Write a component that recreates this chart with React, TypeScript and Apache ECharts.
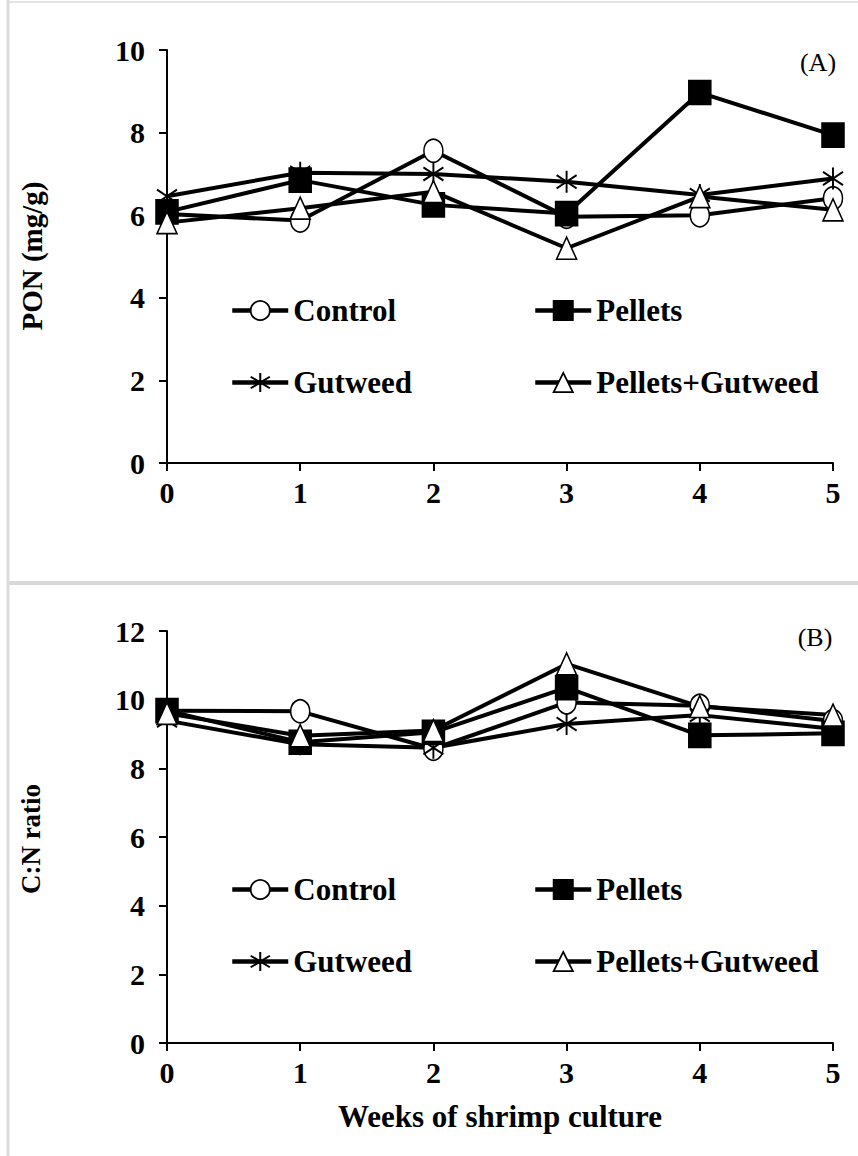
import React, { useEffect, useRef } from "react";
import * as echarts from "echarts";

const weeks = [0, 1, 2, 3, 4, 5];
const seriesNames = ["Control", "Pellets", "Gutweed", "Pellets+Gutweed"];

// Panel A: PON (mg/g)
const controlA = [6.03, 5.87, 7.56, 5.96, 6.0, 6.41];
const pelletsA = [6.08, 6.85, 6.25, 6.04, 8.97, 7.94];
const gutweedA = [6.46, 7.03, 7.0, 6.81, 6.49, 6.89];
const pelGutA = [5.82, 6.17, 6.57, 5.2, 6.45, 6.13];

// Panel B: C:N ratio
const controlB = [9.68, 9.66, 8.57, 9.92, 9.82, 9.38];
const pelletsB = [9.68, 8.76, 9.05, 10.35, 8.96, 9.02];
const gutweedB = [9.39, 8.7, 8.6, 9.29, 9.55, 9.15];
const pelGutB = [9.6, 8.95, 9.1, 11.04, 9.8, 9.55];

const yTicksA = { min: 0, max: 10, interval: 2 };
const yTicksB = { min: 0, max: 12, interval: 2 };

const FONT = "'Liberation Serif', 'Times New Roman', serif";
const STAR = "path://M10 0 L10 20 M1 4 L19 16 M19 4 L1 16";

const symbolDefs: Record<string, any> = {
  Control: { symbol: "circle", symbolSize: [19, 23], fill: "#fff" },
  Pellets: { symbol: "rect", symbolSize: [22, 24], fill: "#000" },
  Gutweed: { symbol: STAR, symbolSize: [20, 22], fill: "none" },
  "Pellets+Gutweed": { symbol: "triangle", symbolSize: [20, 22], fill: "#fff" },
};

function mkSeries(name: string, values: number[], idx: number) {
  const d = symbolDefs[name];
  return {
    type: "line",
    name,
    xAxisIndex: idx,
    yAxisIndex: idx,
    data: weeks.map((w, i) => [w, values[i]]),
    symbol: d.symbol,
    symbolSize: d.symbolSize,
    showAllSymbol: true,
    lineStyle: { color: "#000", width: 4 },
    itemStyle: { color: d.fill, borderColor: "#000", borderWidth: name === "Gutweed" ? 2 : 1.6, opacity: 1 },
    emphasis: { disabled: true },
    z: 3,
  };
}

function mkLegend(name: string, left: number, centerY: number) {
  return {
    data: [name],
    left,
    top: centerY - 16,
    padding: 0,
    itemWidth: 56,
    itemHeight: 24,
    selectedMode: false,
    lineStyle: { color: "#000", width: 4.5 },
    itemStyle: { borderWidth: name === "Gutweed" ? 2 : 1.8 },
    textStyle: { fontFamily: FONT, fontWeight: "bold", fontSize: 31, color: "#000" },
  };
}

function axisCommon() {
  return {
    axisLine: { show: true, lineStyle: { color: "#000", width: 2 } },
    axisTick: { show: true, length: 8, lineStyle: { color: "#000", width: 2 } },
    splitLine: { show: false },
    axisLabel: { fontFamily: FONT, fontWeight: "bold", fontSize: 30, color: "#000" },
  };
}

export default function App() {
  const ref = useRef<HTMLDivElement>(null);
  useEffect(() => {
    if (!ref.current) return;
    const chart = echarts.init(ref.current, undefined, { renderer: "svg" });
    const grids = [
      { left: 167, top: 50, width: 666, height: 413 },
      { left: 167, top: 631, width: 666, height: 412 },
    ];
    const option: any = {
      animation: false,
      backgroundColor: "#fff",
      grid: grids,
      xAxis: [0, 1].map((i) => ({
        type: "value",
        gridIndex: i,
        min: 0,
        max: 5,
        interval: 1,
        ...axisCommon(),
        axisLabel: { ...axisCommon().axisLabel, margin: 14 },
      })),
      yAxis: [yTicksA, yTicksB].map((t, i) => ({
        type: "value",
        gridIndex: i,
        min: t.min,
        max: t.max,
        interval: t.interval,
        ...axisCommon(),
        axisLabel: { ...axisCommon().axisLabel, margin: 22 },
      })),
      legend: [
        mkLegend("Control", 230, 311),
        mkLegend("Pellets", 533, 311),
        mkLegend("Gutweed", 230, 383),
        mkLegend("Pellets+Gutweed", 533, 383),
        mkLegend("Control", 230, 890),
        mkLegend("Pellets", 533, 890),
        mkLegend("Gutweed", 230, 962),
        mkLegend("Pellets+Gutweed", 533, 962),
      ],
      series: [
        mkSeries(seriesNames[0], controlA, 0),
        mkSeries(seriesNames[1], pelletsA, 0),
        mkSeries(seriesNames[2], gutweedA, 0),
        mkSeries(seriesNames[3], pelGutA, 0),
        mkSeries(seriesNames[0], controlB, 1),
        mkSeries(seriesNames[1], pelletsB, 1),
        mkSeries(seriesNames[2], gutweedB, 1),
        mkSeries(seriesNames[3], pelGutB, 1),
      ],
      graphic: [
        { type: "line", shape: { x1: 8, y1: 2, x2: 858, y2: 2 }, style: { stroke: "#e4e4e4", lineWidth: 2 } },
        { type: "line", shape: { x1: 8, y1: 583, x2: 858, y2: 583 }, style: { stroke: "#d8d8d8", lineWidth: 4 } },
        { type: "line", shape: { x1: 8, y1: 0, x2: 8, y2: 1156 }, style: { stroke: "#dcdcdc", lineWidth: 3 } },
        {
          type: "text",
          x: 32,
          y: 256,
          rotation: Math.PI / 2,
          style: { text: "PON (mg/g)", font: `bold 29px ${FONT}`, fill: "#000", align: "center", verticalAlign: "middle" },
        },
        {
          type: "text",
          x: 31,
          y: 839,
          rotation: Math.PI / 2,
          style: { text: "C:N ratio", font: `bold 27px ${FONT}`, fill: "#000", align: "center", verticalAlign: "middle" },
        },
        {
          type: "text",
          x: 500,
          y: 1116,
          style: { text: "Weeks of shrimp culture", font: `bold 31px ${FONT}`, fill: "#000", align: "center", verticalAlign: "middle" },
        },
        {
          type: "text",
          x: 818,
          y: 62,
          style: { text: "(A)", font: `26px ${FONT}`, fill: "#000", align: "center", verticalAlign: "middle" },
        },
        {
          type: "text",
          x: 815,
          y: 637,
          style: { text: "(B)", font: `26px ${FONT}`, fill: "#000", align: "center", verticalAlign: "middle" },
        },
      ],
    };
    chart.setOption(option);
    return () => chart.dispose();
  }, []);
  return (
    <div
      ref={ref}
      style={{ position: "absolute", left: 0, top: 0, width: 858, height: 1156, background: "#fff" }}
    />
  );
}
